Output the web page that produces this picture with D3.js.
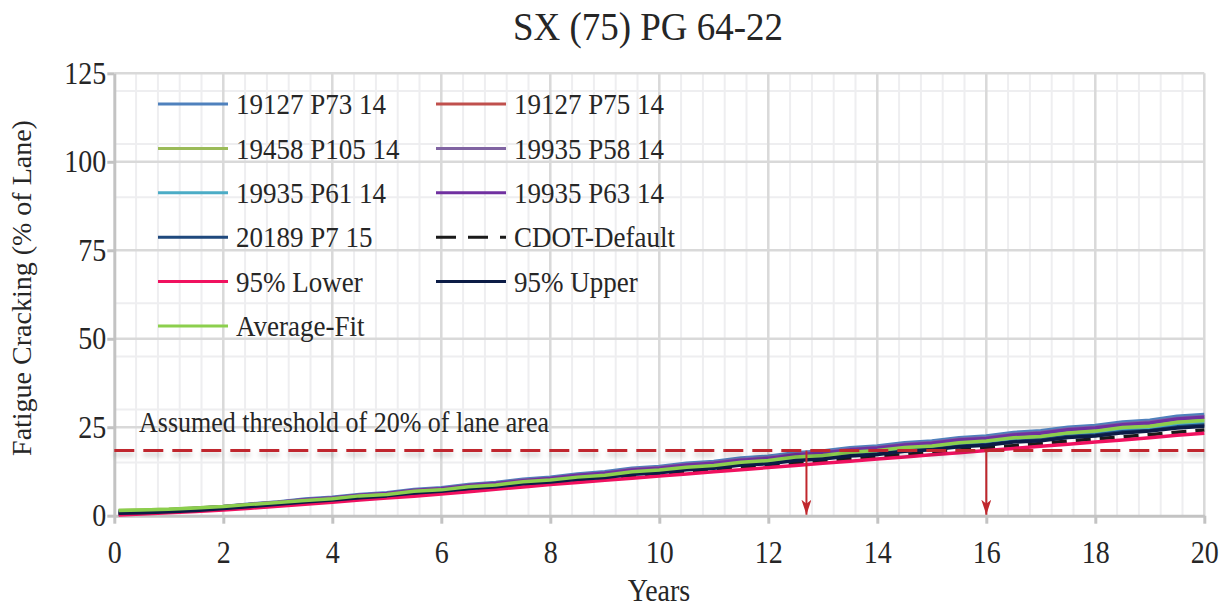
<!DOCTYPE html>
<html>
<head>
<meta charset="utf-8">
<script src="https://cdn.jsdelivr.net/npm/d3@7"></script>
<style>
  body { margin: 0; background: #ffffff; }
  text { font-family: "Liberation Serif", "Times New Roman", serif; fill: #262626; }
</style>
</head>
<body>
<svg id="chart" width="1232" height="607"></svg>
<script>
"use strict";

// Data (years, cracking % of lane)
var years = [0.08, 0.5, 1, 1.5, 2, 2.5, 3, 3.5, 4, 4.5, 5, 5.5, 6, 6.5, 7, 7.5, 8, 8.5, 9, 9.5, 10,
             10.5, 11, 11.5, 12, 12.5, 13, 13.5, 14, 14.5, 15, 15.5, 16, 16.5, 17, 17.5, 18, 18.5, 19, 19.5, 20];

var p73_19127 = [1.3,1.4,1.7,2.1,2.6,3.3,3.9,4.7,5.2,6.0,6.5,7.4,7.9,8.8,9.4,10.3,10.9,11.8,12.4,13.4,13.9,14.8,15.3,16.3,16.8,17.8,18.3,19.2,19.7,20.6,21.1,22.0,22.5,23.5,24.0,25.0,25.5,26.5,27.0,28.1,28.6];
var p75_19127 = [0.9,1.0,1.3,1.7,2.2,2.8,3.4,4.1,4.6,5.3,5.8,6.6,7.1,7.9,8.4,9.3,9.8,10.6,11.1,12.0,12.5,13.3,13.8,14.7,15.1,16.0,16.5,17.3,17.8,18.7,19.1,20.0,20.4,21.3,21.8,22.7,23.1,24.0,24.5,25.4,25.9];
var p105_19458 = [1.5,1.6,1.8,2.2,2.6,3.2,3.7,4.4,4.9,5.7,6.1,7.0,7.4,8.3,8.8,9.7,10.2,11.1,11.6,12.5,13.0,13.9,14.4,15.3,15.8,16.8,17.2,18.1,18.6,19.5,20.0,20.9,21.3,22.3,22.7,23.7,24.2,25.2,25.6,26.7,27.2];
var p58_19935 = [1.2,1.3,1.6,2.0,2.5,3.2,3.8,4.5,5.0,5.8,6.3,7.2,7.7,8.6,9.2,10.0,10.6,11.5,12.1,13.1,13.6,14.5,15.0,15.9,16.4,17.4,17.9,18.8,19.3,20.2,20.7,21.6,22.0,23.0,23.5,24.5,25.0,25.9,26.5,27.5,28.0];
var p61_19935 = [1.0,1.1,1.4,1.8,2.3,2.9,3.5,4.2,4.7,5.4,5.9,6.7,7.2,8.1,8.6,9.4,9.9,10.8,11.3,12.2,12.7,13.5,14.0,14.9,15.4,16.3,16.8,17.6,18.1,19.0,19.4,20.3,20.7,21.6,22.1,23.0,23.5,24.4,24.9,25.8,26.3];
var p63_19935 = [1.2,1.3,1.6,2.0,2.5,3.2,3.7,4.5,5.0,5.8,6.3,7.1,7.6,8.5,9.1,9.9,10.5,11.4,12.0,12.9,13.4,14.3,14.8,15.7,16.2,17.2,17.7,18.6,19.1,20.0,20.5,21.4,21.8,22.8,23.3,24.3,24.8,25.7,26.2,27.3,27.8];
var p7_20189 = [0.8,0.9,1.2,1.6,2.1,2.7,3.3,4.0,4.5,5.2,5.7,6.5,7.0,7.8,8.3,9.1,9.6,10.5,11.0,11.8,12.3,13.2,13.6,14.5,14.9,15.8,16.3,17.1,17.5,18.4,18.8,19.7,20.1,21.0,21.5,22.4,22.8,23.7,24.1,25.1,25.6];
var cdotDefault = [0.4,0.7,1.1,1.5,1.9,2.4,3.0,3.5,4.1,4.7,5.3,5.9,6.5,7.2,7.9,8.5,9.2,9.8,10.5,11.1,11.7,12.3,13.0,13.6,14.2,14.8,15.5,16.1,16.7,17.3,18.0,18.6,19.2,19.8,20.4,21.1,21.7,22.3,22.9,23.6,24.2];
var lower95 = [0.2,0.5,0.8,1.2,1.6,2.1,2.7,3.2,3.8,4.4,5.0,5.5,6.1,6.8,7.5,8.1,8.8,9.4,10.0,10.6,11.2,11.8,12.4,13.0,13.6,14.2,14.8,15.4,16.0,16.6,17.2,17.8,18.4,19.0,19.6,20.2,20.8,21.4,22.0,22.7,23.3];
var upper95 = [0.7,0.8,1.1,1.5,2.0,2.6,3.2,3.9,4.4,5.1,5.6,6.4,6.9,7.7,8.2,9.0,9.5,10.3,10.8,11.7,12.1,13.0,13.4,14.3,14.7,15.6,16.0,16.9,17.3,18.2,18.6,19.5,19.9,20.8,21.2,22.1,22.5,23.4,23.9,24.8,25.3];
var averageFit = [1.5,1.6,1.8,2.2,2.6,3.2,3.7,4.3,4.8,5.6,6.0,6.9,7.3,8.2,8.7,9.6,10.1,10.9,11.4,12.4,12.9,13.7,14.2,15.1,15.6,16.6,17.0,17.9,18.4,19.3,19.7,20.6,21.1,22.0,22.4,23.4,23.9,24.9,25.3,26.4,26.9];

var seriesNames = ["19127 P73 14", "19127 P75 14", "19458 P105 14", "19935 P58 14", "19935 P61 14",
                   "19935 P63 14", "20189 P7 15", "CDOT-Default", "95% Lower", "95% Upper", "Average-Fit"];
var seriesValues = [p73_19127, p75_19127, p105_19458, p58_19935, p61_19935,
                    p63_19935, p7_20189, cdotDefault, lower95, upper95, averageFit];
var seriesColours = ["#4f81bd", "#c0504d", "#9bbb59", "#8064a2", "#4bacc6",
                     "#7030a0", "#1f497d", "#1a1a1a", "#f0115f", "#0c1c46", "#8ccf4d"];

var threshold = 18.4;
var crossYears = [12.7, 16.0];
var xTicks = [0, 2, 4, 6, 8, 10, 12, 14, 16, 18, 20];
var yTicks = [0, 25, 50, 75, 100, 125];
var yMinor = [15, 30, 45, 60, 90, 105, 120];

var svg = d3.select("#chart");
var x = d3.scaleLinear().domain([0, 20]).range([114.3, 1204.3]);
var y = d3.scaleLinear().domain([0, 125]).range([515.7, 73.3]);
var stretch = 1.1; // glyphs in the picture are a bit taller than wide
var serif = '"Liberation Serif", "Times New Roman", serif';

// text placed at (tx, ty) and stretched vertically
function label(tx, ty, size, str, anchor) {
  return svg.append("text")
    .attr("transform", "translate(" + tx + "," + ty + ") scale(1," + stretch + ")")
    .attr("text-anchor", anchor || "start")
    .style("font-family", serif)
    .style("font-size", size + "px")
    .text(str);
}

// Defs: shadow + arrow head
var defs = svg.append("defs");
var shadow = defs.append("filter").attr("id", "shadow").attr("filterUnits", "userSpaceOnUse")
  .attr("x", 0).attr("y", 0).attr("width", 1232).attr("height", 607);
shadow.append("feDropShadow").attr("dx", 0).attr("dy", 4).attr("stdDeviation", 2.5)
  .attr("flood-color", "#000").attr("flood-opacity", 0.22);
defs.append("marker").attr("id", "arrow")
  .attr("viewBox", "0 0 15 10").attr("refX", 15).attr("refY", 5)
  .attr("markerWidth", 15).attr("markerHeight", 10).attr("markerUnits", "userSpaceOnUse")
  .attr("orient", "auto")
  .append("path").attr("d", "M0,0 L15,5 L0,10 L4,5 Z").attr("fill", "#c0272d");

// Minor grid
var xMinor = d3.range(0, 20.001, 0.4).filter(v => Math.abs(v / 2 - Math.round(v / 2)) > 0.01);
svg.append("g").selectAll("line").data(xMinor).join("line")
  .attr("x1", d => x(d)).attr("x2", d => x(d)).attr("y1", y(125)).attr("y2", y(0))
  .attr("stroke", "#eeeef0").attr("stroke-width", 2);
svg.append("g").selectAll("line").data(yMinor).join("line")
  .attr("x1", x(0)).attr("x2", x(20)).attr("y1", d => y(d)).attr("y2", d => y(d))
  .attr("stroke", "#eeeef0").attr("stroke-width", 2);

// Major grid
svg.append("g").selectAll("line").data(xTicks.slice(1)).join("line")
  .attr("x1", d => x(d)).attr("x2", d => x(d)).attr("y1", y(125)).attr("y2", y(0))
  .attr("stroke", "#d9d9d9").attr("stroke-width", 2.5);
svg.append("g").selectAll("line").data(yTicks.slice(1)).join("line")
  .attr("x1", x(0)).attr("x2", x(20)).attr("y1", d => y(d)).attr("y2", d => y(d))
  .attr("stroke", "#d9d9d9").attr("stroke-width", 2.5);

// Axes
var yAxis = svg.append("g").attr("transform", "translate(" + x(0) + ",0)")
  .call(d3.axisLeft(y).tickValues(yTicks).tickSize(7).tickSizeOuter(0).tickPadding(1));
var xAxis = svg.append("g").attr("transform", "translate(0," + y(0) + ")")
  .call(d3.axisBottom(x).tickValues(xTicks).tickSize(8).tickSizeOuter(0).tickPadding(15));
[yAxis, xAxis].forEach(function(a) {
  a.attr("font-family", null).attr("font-size", null);
  a.select(".domain").attr("stroke", "#c3c3c3").attr("stroke-width", 3);
  a.selectAll(".tick line").attr("stroke", "#c3c3c3").attr("stroke-width", 3);
  a.selectAll(".tick text")
    .style("font-family", serif).style("font-size", "28px").attr("fill", "#262626")
    .attr("transform", "scale(1," + stretch + ")");
});

// Series lines
var line = d3.line().x((d, i) => x(years[i])).y(d => y(d));
svg.append("g").selectAll("path").data(seriesValues).join("path")
  .attr("d", line)
  .attr("fill", "none")
  .attr("stroke", (d, i) => seriesColours[i])
  .attr("stroke-width", 3.5)
  .attr("stroke-linejoin", "round")
  .attr("stroke-dasharray", (d, i) => seriesNames[i] == "CDOT-Default" ? "15,9" : null);

// Threshold and crossing arrows
svg.append("line")
  .attr("x1", x(0)).attr("x2", x(20)).attr("y1", y(threshold)).attr("y2", y(threshold))
  .attr("stroke", "#c0272d").attr("stroke-width", 3).attr("stroke-dasharray", "20,9")
  .attr("filter", "url(#shadow)");
svg.append("g").selectAll("line").data(crossYears).join("line")
  .attr("x1", d => x(d)).attr("x2", d => x(d))
  .attr("y1", y(threshold)).attr("y2", y(0) - 1)
  .attr("stroke", "#c0272d").attr("stroke-width", 2)
  .attr("marker-end", "url(#arrow)");

label(139, 432, 26, "Assumed threshold of 20% of lane area");

// Legend
var legend = svg.append("g").selectAll("g").data(seriesNames).join("g")
  .attr("transform", (d, i) => "translate(" + (158 + (i % 2) * 278) + "," + (104 + Math.floor(i / 2) * 44.4) + ")");
legend.append("line").attr("x1", 0).attr("x2", 70).attr("y1", 0).attr("y2", 0)
  .attr("stroke", (d, i) => seriesColours[i]).attr("stroke-width", 3)
  .attr("stroke-dasharray", d => d == "CDOT-Default" ? "20,12" : null);
legend.append("text").attr("transform", "translate(78,0) scale(1," + stretch + ")").attr("dy", "0.34em")
  .style("font-family", serif).style("font-size", "27px").text(d => d);

// Titles
label(648, 40, 37, "SX (75) PG 64-22", "middle");
label(659, 601, 28, "Years", "middle");
svg.append("text").attr("transform", "translate(31,288) rotate(-90)").attr("text-anchor", "middle")
  .style("font-family", serif).style("font-size", "28px").text("Fatigue Cracking (% of Lane)");
</script>
</body>
</html>
